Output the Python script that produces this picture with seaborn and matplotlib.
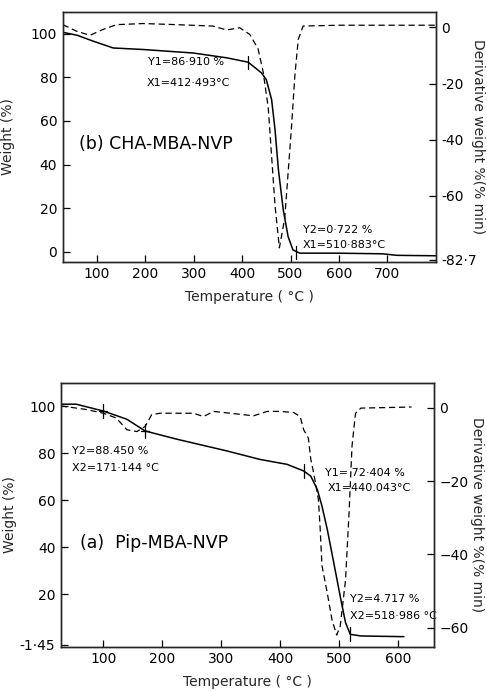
import numpy as np
import pandas as pd
import matplotlib
matplotlib.use("Agg")
import matplotlib.pyplot as plt
import seaborn as sns

# Panel (b) CHA-MBA-NVP: weight curve and derivative curve.
temp_b_w = [30, 60, 93, 134, 196, 299, 368, 412.5, 440, 450, 461, 468, 475, 485,
            495, 505, 519, 595, 690, 720, 800]
weight_b = [100.6, 99.2, 96.5, 93.4, 92.7, 91.1, 88.9, 86.9, 82.0, 78.9, 69.7, 56.0,
            37.6, 19.3, 7.0, 0.9, -0.6, -0.6, -0.9, -1.6, -1.8]
temp_b_d = [30, 58, 86, 113, 141, 196, 265, 340, 368, 395, 416, 433, 443.5, 454, 461,
            468, 477, 488, 495, 502, 509, 516, 526, 600, 800]
deriv_b = [1.0, -1.3, -2.8, -0.7, 1.0, 1.4, 1.0, 0.5, -0.9, -0.1, -2.5, -7.6, -15.8,
           -28.6, -46.0, -63.4, -78.5, -68.0, -51.8, -35.5, -17.0, -4.2, 0.5, 0.8, 0.8]

# Panel (a) Pip-MBA-NVP
temp_a_w = [28, 54, 100, 140, 171, 225, 310, 366, 412, 440, 452, 463, 471, 480, 491,
            503, 511, 519, 537, 610]
weight_a = [100.9, 100.9, 98.0, 94.5, 89.5, 86.0, 81.0, 77.4, 75.3, 72.5, 70.3, 64.7,
            57.6, 47.7, 33.5, 17.9, 8.0, 3.0, 2.3, 2.0]
temp_a_d = [28, 72, 100, 122, 140, 157, 171, 182, 196, 253, 270, 287, 338, 355, 378,
            400, 423, 434, 440, 448, 452, 457, 465, 468, 471, 480, 488, 496, 502, 511,
            517, 522, 528, 537, 623]
deriv_a = [0.5, -0.5, -1.5, -2.8, -6.0, -6.5, -5.1, -1.9, -1.5, -1.5, -2.4, -1.0, -1.9,
           -2.2, -1.0, -1.0, -1.3, -2.4, -6.0, -8.3, -14.0, -17.8, -25.0, -33.0, -43.0,
           -50.5, -57.8, -62.0, -59.6, -47.0, -28.7, -10.5, -1.5, -0.1, 0.2]

# cursor marks on the curves (temperature, weight, crossed?)
marks_b = [(412.5, 86.9, False), (510.9, -0.5, False)]
marks_a = [(100, 98.0, True), (171.1, 89.5, True), (440.0, 72.5, False), (519.0, 3.0, False)]

left_ticks_b = [0, 20, 40, 60, 80, 100]
right_ticks_b = [0, -20, -40, -60, -82.7]
right_labels_b = ["0", "-20", "-40", "-60", "-82·7"]
left_ticks_a = [-1.45, 20, 40, 60, 80, 100]
left_labels_a = ["-1·45", "20", "40", "60", "80", "100"]
right_ticks_a = [0, -20, -40, -60]

sns.set_theme(style="ticks")
plt.rcParams["font.family"] = ["DejaVu Sans"]
plt.rcParams["axes.linewidth"] = 1.0

fig = plt.figure(figsize=(4.87, 6.91), dpi=100)
ax_b = fig.add_axes([0.129, 0.621, 0.766, 0.362])
ax_a = fig.add_axes([0.125, 0.064, 0.766, 0.382])


def draw_panel(ax, tw, w, td, d, marks, xlim, ylim, ylim2, xticks, xpad, ylx, y2x):
    sns.lineplot(x=tw, y=w, ax=ax, color="black", lw=1.1, estimator=None)
    ax2 = ax.twinx()
    sns.lineplot(x=td, y=d, ax=ax2, color="black", lw=0.9, estimator=None,
                 linestyle=(0, (5, 3)))
    for t, y, cross in marks:
        ax.plot([t, t], [y - 3, y + 3], color="black", lw=0.9)
        if cross:
            ax.plot([t - 7, t + 7], [y, y], color="black", lw=0.9)
    ax.set_xlim(*xlim)
    ax.set_ylim(*ylim)
    ax2.set_ylim(*ylim2)
    ax.set_xticks(xticks)
    for a in (ax, ax2):
        a.tick_params(direction="in", length=5, width=0.9, labelsize=10, pad=4,
                      colors="black")
    ax.set_ylabel("Weight (%)", fontsize=10)
    ax.yaxis.set_label_coords(ylx, 0.5)
    ax2.set_ylabel("Derivative weight %(% min)", fontsize=10, rotation=270, va="center")
    ax2.yaxis.set_label_coords(y2x, 0.5)
    ax.set_xlabel("Temperature ( °C )", fontsize=10, labelpad=xpad)
    return ax2


ax2_b = draw_panel(ax_b, temp_b_w, weight_b, temp_b_d, deriv_b, marks_b,
                   (30, 800), (-4.6, 110), (-83.5, 5.6),
                   [100, 200, 300, 400, 500, 600, 700], 6, -0.129, 1.113)
ax_b.set_yticks(left_ticks_b)
ax2_b.set_yticks(right_ticks_b)
ax2_b.set_yticklabels(right_labels_b)

ax2_a = draw_panel(ax_a, temp_a_w, weight_a, temp_a_d, deriv_a, marks_a,
                   (28, 661), (-2.3, 110), (-65.2, 6.8),
                   [100, 200, 300, 400, 500, 600], 6, -0.118, 1.115)
ax_a.set_yticks(left_ticks_a)
ax_a.set_yticklabels(left_labels_a)
ax2_a.set_yticks(right_ticks_a)

# annotations
ann = dict(fontsize=8, color="black", va="center", ha="left")
ax_b.text(205, 87.2, "Y1=86·910 %", **ann)
ax_b.text(203, 77.5, "X1=412·493°C", **ann)
ax_b.text(525, 10.0, "Y2=0·722 %", **ann)
ax_b.text(525, 3.2, "X1=510·883°C", **ann)
ax_b.text(63, 49.5, "(b) CHA-MBA-NVP", fontsize=12.5, color="black", va="center", ha="left")

ax_a.text(47, 80.9, "Y2=88.450 %", **ann)
ax_a.text(47, 73.6, "X2=171·144 °C", **ann)
ax_a.text(477, 71.5, "Y1= 72·404 %", **ann)
ax_a.text(480, 65.1, "X1=440.043°C", **ann)
ax_a.text(519, 17.9, "Y2=4.717 %", **ann)
ax_a.text(519, 10.6, "X2=518·986 °C", **ann)
ax_a.text(60, 41.7, "(a)  Pip-MBA-NVP", fontsize=12.5, color="black", va="center", ha="left")

fig.savefig("out.png", dpi=100)
